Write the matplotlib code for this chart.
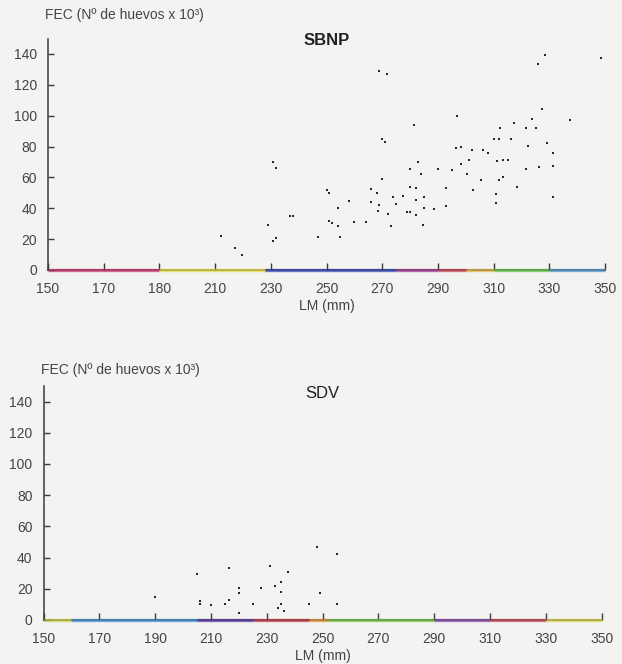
import matplotlib
matplotlib.use("Agg")
import matplotlib.pyplot as plt

# SBNP: LM (mm) vs FEC (N. de huevos x 10^3)
sbnp_lm = [212, 217, 219.5, 229, 230.7, 232, 230.7, 232, 237, 238, 247, 250, 251, 258,
           254, 251, 252, 254, 255, 260, 264, 266, 268, 266, 269, 268.6, 270, 270, 271,
           272, 273, 274, 275, 277.6, 279, 280, 280, 280, 282, 282, 282, 283, 284, 284.6,
           285, 285, 288.6, 290, 293, 293, 295, 296.4, 298.3, 298.3, 300.3, 301, 302.4,
           302.7, 305.5, 306.3, 308, 311, 311, 311.3, 312, 310, 312, 313.5, 313.5, 315.3,
           316.3, 318.3, 312.3, 317.3, 321.6, 325.2, 322.5, 329.3, 331.4, 326.4, 331.4,
           331.4, 321.6, 337.4, 269, 271.6, 281.5, 296.8, 327.3, 323.7, 328.5, 326, 348.6]
sbnp_fec = [22, 14.5, 10, 29, 19, 21, 70, 66, 35, 35, 21.5, 52, 50, 45,
            40, 32, 30.5, 28.5, 21.5, 31, 31, 52.5, 50, 44, 42, 38, 59, 85, 83,
            36, 28.5, 47, 43, 48, 37.5, 37.5, 65.5, 54, 53, 45.5, 35.5, 70, 62, 29,
            47.5, 40, 39.5, 65.5, 41.5, 53, 64.5, 79, 80, 69, 62, 71, 77.5,
            52, 58, 77.5, 75.5, 49.5, 43.5, 70.5, 58, 85, 85, 60, 71, 71,
            85, 54, 92, 95, 92, 92, 80.5, 82, 75.5, 67, 67.5,
            47.5, 65.5, 97, 129, 127, 94, 100, 104, 98, 139, 133.5, 137.6]

# SDV
sdv_lm = [190, 205, 206, 206, 210, 215, 216.5, 216.6, 220, 220, 220, 225, 228, 231,
          233, 235, 235, 235, 234, 236, 237.7, 245, 248, 249, 255, 255]
sdv_fec = [15, 29.5, 12, 10.5, 9.5, 10, 13, 33, 20.5, 17, 4.5, 10, 20.5, 34.5,
           21.5, 24.5, 18, 10.5, 7.5, 6, 31, 10, 46.5, 17, 42, 10]

x_ticks = [150, 170, 190, 210, 230, 250, 270, 290, 310, 330, 350]
top_xlabels = ["150", "170", "180", "210", "230", "250", "270", "290", "310", "330", "350"]
bottom_xlabels = ["150", "170", "190", "210", "230", "250", "270", "290", "310", "330", "350"]
y_ticks = [0, 20, 40, 60, 80, 100, 120, 140]

# colour fringes of the scanned x axis line
top_fringe = [(150, 190, "#c8306e"), (190, 228, "#e2d83c"), (228, 275, "#3040b0"),
              (275, 290, "#a03090"), (290, 300, "#c83c50"), (300, 310, "#e0b040"),
              (310, 330, "#60c040"), (330, 350, "#5090c8")]
bottom_fringe = [(150, 160, "#c8d040"), (160, 205, "#3a8cd0"), (205, 225, "#5030a0"),
                 (225, 245, "#c03040"), (245, 252, "#e09030"), (252, 290, "#70c040"),
                 (290, 310, "#8040a0"), (310, 330, "#c04050"), (330, 350, "#d8d040")]

INK = "#3a3a3a"
PAPER = "#f3f3f1"


def draw_panel(ax, lm, fec, xlabels, title, bold, fringe, ylab_y, title_y):
    ax.set_facecolor(PAPER)
    ax.scatter(lm, fec, s=3.5, color="#262626", marker="s", linewidths=0, zorder=3)
    ax.set_xlim(150, 350)
    ax.set_ylim(0, 150)
    ax.set_xticks(x_ticks)
    ax.set_xticklabels(xlabels)
    ax.set_yticks(y_ticks)
    for side in ["top", "right"]:
        ax.spines[side].set_visible(False)
    ax.spines["left"].set_color(INK)
    ax.spines["left"].set_linewidth(1.1)
    ax.spines["bottom"].set_color(INK)
    ax.spines["bottom"].set_linewidth(1.1)
    ax.tick_params(axis="both", direction="in", length=4, width=1, color=INK,
                   labelcolor="#444444", labelsize=10)
    ax.tick_params(axis="x", pad=9, length=5)
    ax.tick_params(axis="y", pad=8)
    for x0, x1, c in fringe:
        ax.plot([x0, x1], [0, 0], color=c, lw=2.4, alpha=0.7,
                transform=ax.get_xaxis_transform(), clip_on=False, zorder=4,
                solid_capstyle="butt")
    ax.set_xlabel("LM (mm)", fontsize=10, color="#444444", labelpad=2)
    ax.text(-0.005, ylab_y, "FEC (Nº de huevos x 10³)", transform=ax.transAxes,
            fontsize=10, color="#444444", ha="left", va="center")
    ax.text(0.5, title_y, title, transform=ax.transAxes, fontsize=12, color="#222222",
            ha="center", va="center", fontweight="bold" if bold else "normal")


def main() -> None:
    plt.rcParams["font.family"] = ["Liberation Sans", "DejaVu Sans"]
    fig = plt.figure(figsize=(6.22, 6.64), dpi=100, facecolor=PAPER)

    ax1 = fig.add_axes([0.0772, 0.5934, 0.8955, 0.3486])
    draw_panel(ax1, sbnp_lm, sbnp_fec, top_xlabels, "SBNP", True, top_fringe, 1.10, 0.99)

    ax2 = fig.add_axes([0.0701, 0.0663, 0.897, 0.3524])
    draw_panel(ax2, sdv_lm, sdv_fec, bottom_xlabels, "SDV", False, bottom_fringe, 1.07, 0.97)

    fig.savefig("out.png", dpi=100, facecolor=PAPER)


if __name__ == "__main__":
    main()
